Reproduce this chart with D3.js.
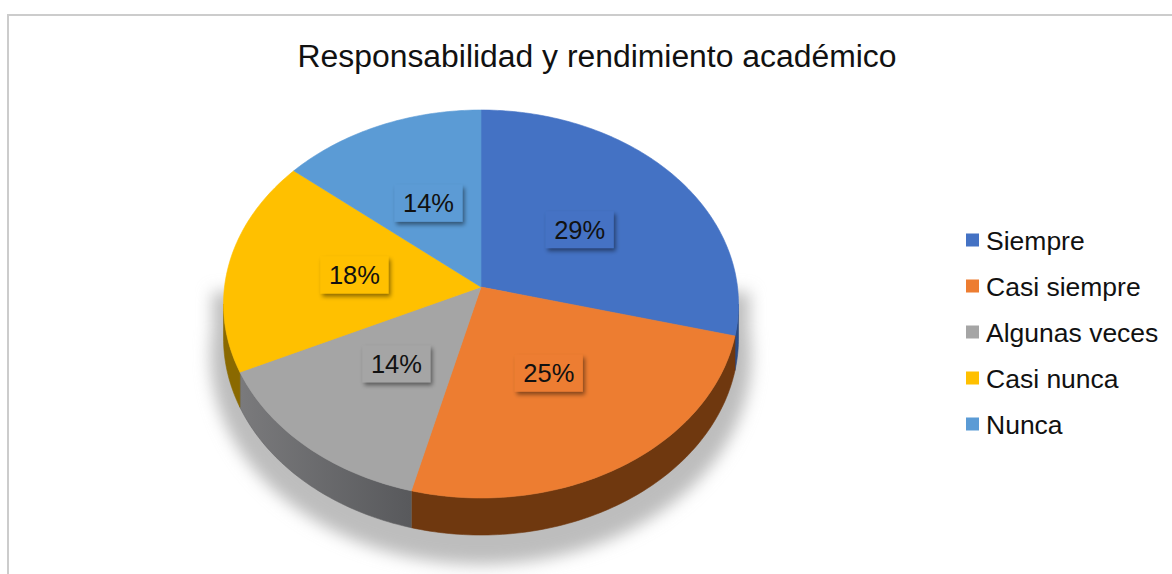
<!DOCTYPE html>
<html>
<head>
<meta charset="utf-8">
<script src="https://cdn.jsdelivr.net/npm/d3@7"></script>
<style>
  html, body { margin: 0; padding: 0; background: #fff; }
  svg { display: block; font-family: "Liberation Sans", Arial, sans-serif; }
</style>
</head>
<body>
<svg id="chart" width="1172" height="574"></svg>
<script>
const title = "Responsabilidad y rendimiento académico";
const categories = ["Siempre", "Casi siempre", "Algunas veces", "Casi nunca", "Nunca"];
const values = [29, 25, 14, 18, 14];
const labels = ["29%", "25%", "14%", "18%", "14%"];
const colors = ["#4472C4", "#ED7D31", "#A5A5A5", "#FFC000", "#5B9BD5"];
const sideColors = ["#2b4c85", "#6f380f", "#646567", "#8a6900", "#3a6a98"];

const svg = d3.select("#chart");
const W = 1172, H = 574;

// frame
svg.append("rect").attr("x", 8).attr("y", 15).attr("width", W + 20).attr("height", H + 20)
  .attr("fill", "#fff").attr("stroke", "#cccccc").attr("stroke-width", 2);

const defs = svg.append("defs");
const blur = defs.append("filter").attr("id", "shadowBlur")
  .attr("x", "-20%").attr("y", "-20%").attr("width", "140%").attr("height", "140%");
blur.append("feGaussianBlur").attr("stdDeviation", 8);

const ds = defs.append("filter").attr("id", "labelShadow")
  .attr("x", "-30%").attr("y", "-30%").attr("width", "160%").attr("height", "160%");
ds.append("feDropShadow").attr("dx", 2).attr("dy", 3).attr("stdDeviation", 2)
  .attr("flood-color", "#000").attr("flood-opacity", 0.45);

// gray side gradient (lighter towards the left)
const gg = defs.append("linearGradient").attr("id", "graySide")
  .attr("x1", "0%").attr("x2", "100%").attr("y1", "0%").attr("y2", "0%");
gg.append("stop").attr("offset", "0%").attr("stop-color", "#7a7a7c");
gg.append("stop").attr("offset", "100%").attr("stop-color", "#58595c");

// projection of a tilted disk with perspective
const cx = 481, cy = 287;
const A = 256.5, B = 192.5, k = 0.0876, thick = 33.8;
function proj(theta, r, drop) {
  const depth = 1 + k * r * Math.cos(theta);
  return [cx + A * r * Math.sin(theta) / depth,
          cy + (-B * r * Math.cos(theta) + (drop || 0)) / depth];
}
function arcPts(a0, a1, r, drop) {
  const n = Math.max(2, Math.ceil(Math.abs(a1 - a0) / (Math.PI / 180)));
  const pts = [];
  for (let i = 0; i <= n; i++) pts.push(proj(a0 + (a1 - a0) * i / n, r, drop));
  return pts;
}
const line = d3.line();

const arcs = d3.pie().sort(null).value(d => d)(values);

// shadow
const visA = Math.acos(-k), visB = 2 * Math.PI - Math.acos(-k);
{
  const lower = arcPts(visA - 0.12, visB + 0.12, 1.05, thick + 16);
  const pts = [[lower[0][0], cy + 5]].concat(lower).concat([[lower[lower.length - 1][0], cy + 5]]);
  svg.append("path").attr("d", line(pts) + "Z")
    .attr("fill", "#bdbdbd").attr("filter", "url(#shadowBlur)");
}

// side walls
arcs.forEach((a, i) => {
  const s = Math.max(a.startAngle, visA), e = Math.min(a.endAngle, visB);
  if (e <= s) return;
  const top = arcPts(s, e, 1, 0);
  const bot = arcPts(e, s, 1, thick);
  const fill = i === 2 ? "url(#graySide)" : sideColors[i];
  svg.append("path").attr("d", line(top.concat(bot)) + "Z")
    .attr("fill", fill).attr("stroke", sideColors[i]).attr("stroke-width", 0.6);
});

// top faces
arcs.forEach((a, i) => {
  const pts = [[cx, cy]].concat(arcPts(a.startAngle, a.endAngle, 1, 0));
  svg.append("path").attr("d", line(pts) + "Z")
    .attr("fill", colors[i]).attr("stroke", colors[i]).attr("stroke-width", 0.6);
});

// data labels
arcs.forEach((a, i) => {
  const mid = (a.startAngle + a.endAngle) / 2;
  const [x, y] = proj(mid, 0.5, 0);
  const g = svg.append("g").attr("transform", `translate(${x},${y})`);
  g.append("rect").attr("x", -34).attr("y", -18.5).attr("width", 68).attr("height", 37)
    .attr("fill", colors[i]).attr("filter", "url(#labelShadow)");
  g.append("text").attr("text-anchor", "middle").attr("dy", "0.36em")
    .attr("font-size", 25.5).attr("fill", "#111").text(labels[i]);
});

// title
const t = svg.append("text").attr("x", 597).attr("y", 67).attr("text-anchor", "middle")
  .attr("font-size", 28).attr("fill", "#111").text(title);
const tw = t.node().getComputedTextLength();
t.attr("font-size", 28 * 599 / tw);

// legend
const lg = svg.append("g");
categories.forEach((c, i) => {
  const y = 240 + i * 46;
  lg.append("rect").attr("x", 966).attr("y", y - 6.5).attr("width", 13).attr("height", 13)
    .attr("fill", colors[i]);
  lg.append("text").attr("x", 986).attr("y", y).attr("dy", "0.36em")
    .attr("font-size", 26.5).attr("fill", "#111").text(c);
});
</script>
</body>
</html>
